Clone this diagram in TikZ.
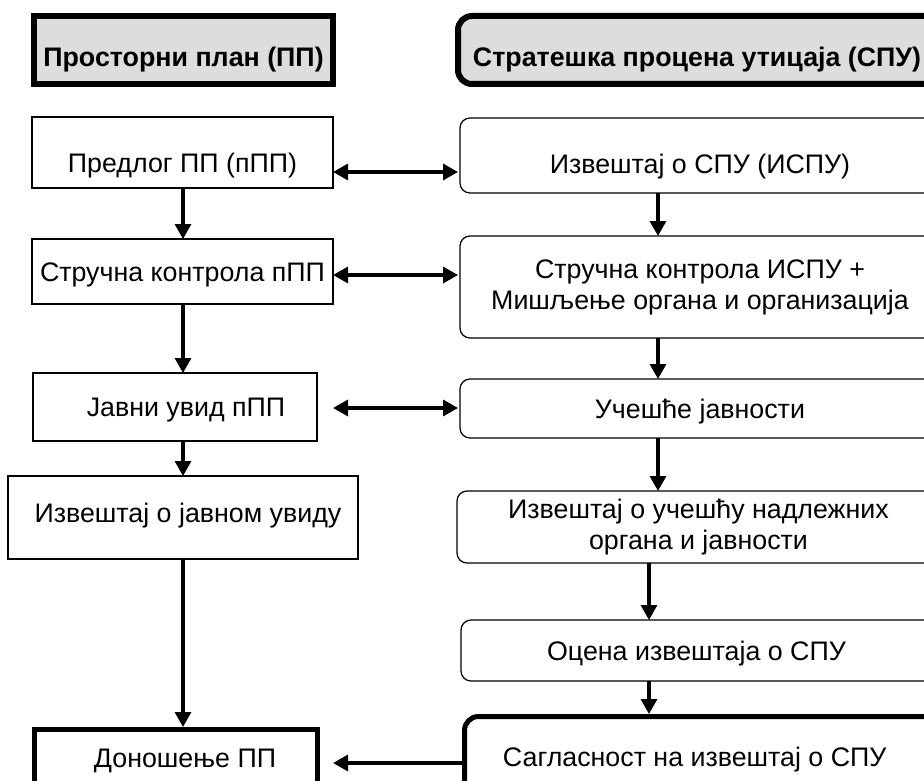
\documentclass[tikz,border=0pt]{standalone}
\usepackage{fontspec}
\setmainfont{Liberation Sans}
\usetikzlibrary{arrows.meta,calc}
\definecolor{hdrgray}{RGB}{221,221,221}
\begin{document}
\begin{tikzpicture}[x=1pt,y=-1pt,
  every node/.style={inner sep=0pt, outer sep=0pt, font=\fontsize{26.8}{31}\selectfont},
  onel/.style={text height=20pt, text depth=1pt},
  hdr/.style={draw=black, line width=6pt, fill=hdrgray, font=\fontsize{26.8}{31}\selectfont\bfseries, text height=34pt, text depth=1pt},
  pbox/.style={draw=black, line width=1.2pt, fill=white},
  sbox/.style={draw=black, line width=1.2pt, rounded corners=10pt, fill=white},
  thickbox/.style={draw=black, line width=5pt, fill=white},
  arr/.style={line width=3.3pt, -{Triangle[length=15pt,width=16pt]}},
  darr/.style={line width=3.3pt, {Triangle[length=15pt,width=16pt]}-{Triangle[length=15pt,width=16pt]}}
]
\useasboundingbox (0,0) rectangle (924,781);
\clip (0,0) rectangle (924,781);

% headers
\node[hdr, minimum width=299pt, minimum height=68pt] (hL) at (183.5,50) {Просторни план (ПП)};
\node[hdr, rounded corners=14pt, minimum width=487pt, minimum height=68pt] (hR) at (701.5,50) {Стратешка процена утицаја (СПУ)\kern9pt};

% left column
\node[pbox, onel, text height=41pt, minimum width=301pt, minimum height=71pt] (B1) at (182.5,152.5) {Предлог ПП (пПП)};
\node[pbox, onel, minimum width=301pt, minimum height=65pt] (B2) at (182.5,271.5) {Стручна контрола пПП};
\node[pbox, onel, minimum width=284pt, minimum height=68pt] (B3) at (175,407) {\kern22pt Јавни увид пПП};
\node[pbox, onel, text height=11pt, minimum width=350pt, minimum height=83pt] (B4) at (183,517.5) {\kern10pt Извештај о јавном увиду};
\node[thickbox, onel, minimum width=283pt, minimum height=56pt] (B5) at (176,757.5) {\kern18pt Доношење ПП};

% right column
\node[sbox, onel, text height=37pt, minimum width=480pt, minimum height=75pt] (R1) at (700,155.5) {Извештај о СПУ (ИСПУ)};
\node[sbox, align=center, minimum width=480pt, minimum height=102pt] (R2) at (700,287) {Стручна контрола ИСПУ +\\Мишљење органа и организација};
\node[sbox, onel, minimum width=480pt, minimum height=59pt] (R3) at (700,408.5) {Учешће јавности};
\node[sbox, align=center, minimum width=483pt, minimum height=72pt] (R4) at (698.5,527) {Извештај о учешћу надлежних\\органа и јавности};
\node[sbox, onel, minimum width=479pt, minimum height=61pt] (R5) at (700.5,650.5) {Оцена извештаја о СПУ\kern8pt};
\node[thickbox, onel, rounded corners=14pt, minimum width=485.5pt, minimum height=81pt] (R6) at (707.25,757) {Сагласност на извештај о СПУ\kern25pt};

% guide coordinates
\coordinate (xl) at (183,0);
\coordinate (xr1) at (658,0);
\coordinate (xr2) at (649,0);
\coordinate (y1) at (0,172);
\coordinate (y2) at (0,275);
\coordinate (y3) at (0,408);
\coordinate (y4) at (0,763);

% vertical arrows left
\draw[arr] (B1.south -| xl) -- (B2.north -| xl);
\draw[arr] (B2.south -| xl) -- (B3.north -| xl);
\draw[arr] (B3.south -| xl) -- (B4.north -| xl);
\draw[arr] (B4.south -| xl) -- ($(B5.north -| xl)+(0,-2.5)$);

% vertical arrows right
\draw[arr] (R1.south -| xr1) -- (R2.north -| xr1);
\draw[arr] (R2.south -| xr1) -- (R3.north -| xr1);
\draw[arr] (R3.south -| xr1) -- (R4.north -| xr1);
\draw[arr] (R4.south -| xr2) -- (R5.north -| xr2);
\draw[arr] (R5.south -| xr2) -- ($(R6.north -| xr2)+(0,-2.5)$);

% horizontal arrows
\draw[darr] (B1.east |- y1) -- ($(R1.west |- y1)+(-2,0)$);
\draw[darr] (B2.east |- y2) -- ($(R2.west |- y2)+(-2,0)$);
\draw[darr] ($(B3.east |- y3)+(16,0)$) -- ($(R3.west |- y3)+(-2,0)$);
\draw[arr] ($(R6.west |- y4)+(-2.5,0)$) -- ($(B5.east |- y4)+(15.5,0)$);
\end{tikzpicture}
\end{document}
